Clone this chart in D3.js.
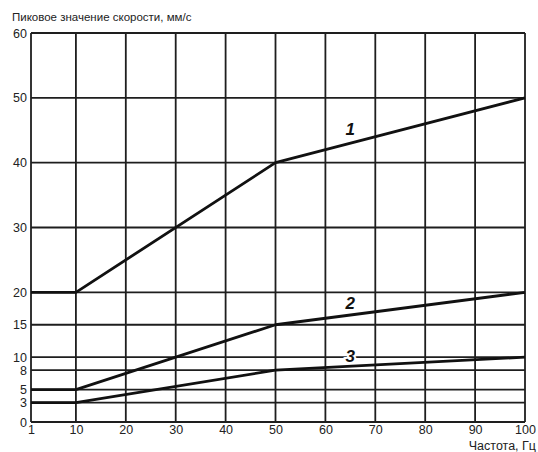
<!DOCTYPE html>
<html><head><meta charset="utf-8">
<script src="https://cdn.jsdelivr.net/npm/d3@7"></script>
<style>
body{margin:0;background:#fff;}
svg{display:block;font-family:"Liberation Sans",Arial,sans-serif;}
</style></head>
<body>
<svg id="c" width="538" height="452"></svg>
<script>
const xTicks = [1,10,20,30,40,50,60,70,80,90,100];
const yTicks = [0,3,5,8,10,15,20,30,40,50,60];
const freq = [1,10,50,100];
const curve1 = [20,20,40,50];
const curve2 = [5,5,15,20];
const curve3 = [3,3,8,10];
const curveNames = ["1","2","3"];
const labelAt = [[65,44.9],[65,18.1],[65,10.0]];
const yTitle = "Пиковое значение скорости, мм/с";
const xTitle = "Частота, Гц";

const svg = d3.select("#c");
const x = d3.scaleLinear().domain([1,100]).range([31,525]);
const y = d3.scaleLinear().domain([0,60]).range([422,33]);
const ink = "#1e1e1e";

const grid = svg.append("g");
grid.selectAll("line.v").data(xTicks).join("line")
  .attr("x1",d=>x(d)).attr("x2",d=>x(d)).attr("y1",y(0)).attr("y2",y(60))
  .attr("stroke",ink).attr("stroke-width",1.8);
grid.selectAll("line.h").data(yTicks).join("line")
  .attr("x1",x(1)).attr("x2",x(100)).attr("y1",d=>y(d)).attr("y2",d=>y(d))
  .attr("stroke",ink).attr("stroke-width",1.8);

const xAxis = svg.append("g").attr("transform",`translate(0,${y(0)})`)
  .call(d3.axisBottom(x).tickValues(xTicks).tickSize(0).tickPadding(3).tickFormat(d3.format("d")));
xAxis.select(".domain").remove();
xAxis.selectAll("text").attr("font-size",12.5).attr("fill","#222").attr("font-family","Liberation Sans, Arial, sans-serif");

const yAxis = svg.append("g").attr("transform",`translate(${x(1)},0)`)
  .call(d3.axisLeft(y).tickValues(yTicks).tickSize(0).tickPadding(4).tickFormat(d3.format("d")));
yAxis.select(".domain").remove();
yAxis.selectAll("text").attr("font-size",12.5).attr("fill","#222").attr("font-family","Liberation Sans, Arial, sans-serif");

const series = [curve1,curve2,curve3];
const line = d3.line().x((d,i)=>x(freq[i])).y(d=>y(d));
svg.selectAll("path.curve").data(series).join("path")
  .attr("class","curve").attr("d",line).attr("fill","none")
  .attr("stroke","#111").attr("stroke-width",2.8).attr("stroke-linejoin","round");

svg.selectAll("text.lab").data(curveNames).join("text")
  .attr("class","lab")
  .attr("x",(d,i)=>x(labelAt[i][0])).attr("y",(d,i)=>y(labelAt[i][1]))
  .attr("text-anchor","middle").attr("dominant-baseline","middle")
  .attr("font-size",17).attr("font-style","italic").attr("font-weight","bold").attr("fill","#111")
  .attr("stroke","#fff").attr("stroke-width",4).attr("paint-order","stroke")
  .text(d=>d);

svg.append("text").attr("x",12).attr("y",21).attr("font-size",11.5).attr("fill","#222").text(yTitle);
svg.append("text").attr("x",536).attr("y",450).attr("text-anchor","end").attr("font-size",12.5).attr("fill","#222").text(xTitle);
</script>
</body></html>
